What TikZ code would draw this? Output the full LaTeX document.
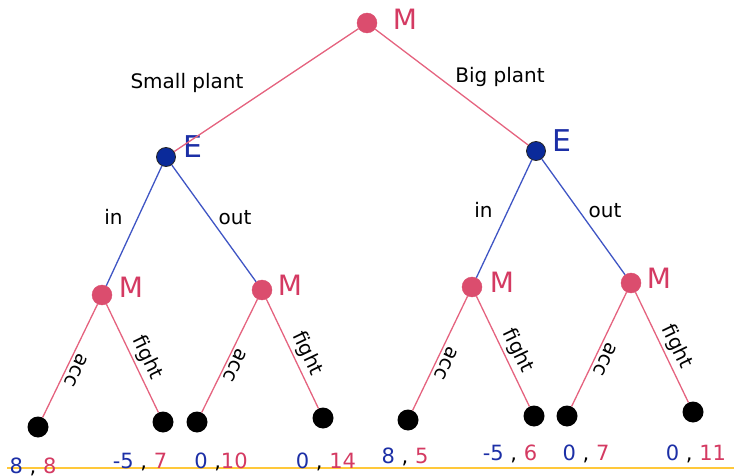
\documentclass[tikz,border=0pt]{standalone}
\usepackage{fontspec}
\setmainfont{DejaVu Sans}

\definecolor{mpink}{HTML}{DB4D6E}
\definecolor{epink}{HTML}{E5637F}
\definecolor{eblue}{HTML}{3F55C4}
\definecolor{nblue}{HTML}{0A2A9A}
\definecolor{tblue}{HTML}{1C2FA6}
\definecolor{tpink}{HTML}{D43A62}
\definecolor{gold}{HTML}{FFC83A}

\begin{document}
\begin{tikzpicture}[x=1pt,y=-1pt,
  mnode/.style={circle, fill=mpink, draw=mpink, minimum size=20pt, inner sep=0pt},
  enode/.style={circle, fill=nblue, draw=black!85, line width=0.8pt, minimum size=19pt, inner sep=0pt},
  leaf/.style={circle, fill=black, minimum size=21pt, inner sep=0pt},
  pedge/.style={draw=epink, line width=1.3pt},
  bedge/.style={draw=eblue, line width=1.3pt},
  lbl/.style={font=\fontsize{20}{24}\selectfont, text=black, inner sep=0pt, anchor=base},
  mlbl/.style={font=\fontsize{28}{32}\selectfont, text=tpink, inner sep=0pt, anchor=base},
  elbl/.style={font=\fontsize{30}{34}\selectfont, text=tblue, inner sep=0pt, anchor=base},
  pay/.style={font=\fontsize{21}{24}\selectfont, inner sep=0pt, anchor=base},
  act/.style={font=\fontsize{20}{24}\selectfont, text=black, sloped, above, pos=0.55, inner sep=3pt},
]
\useasboundingbox (0,0) rectangle (734,476);

% decision nodes
\node[mnode] (root) at (367,23) {};
\node[enode] (eL) at (166,157) {};
\node[enode] (eR) at (536,151) {};
\node[mnode] (m1) at (102,295) {};
\node[mnode] (m2) at (262,290) {};
\node[mnode] (m3) at (472,287) {};
\node[mnode] (m4) at (631,283) {};

% terminal nodes
\node[leaf] (t1) at (38,427) {};
\node[leaf] (t2) at (163,422) {};
\node[leaf] (t3) at (197,422) {};
\node[leaf] (t4) at (323,418) {};
\node[leaf] (t5) at (408,420) {};
\node[leaf] (t6) at (534,416) {};
\node[leaf] (t7) at (567,416) {};
\node[leaf] (t8) at (693,412) {};

% player labels
\node[mlbl] (lroot) at (405,30) {M};
\node[elbl] (leL) at (193,158) {E};
\node[elbl] (leR) at (562,152) {E};
\node[mlbl] (lm1) at (131,297) {M};
\node[mlbl] (lm2) at (290,295) {M};
\node[mlbl] (lm3) at (502,292) {M};
\node[mlbl] (lm4) at (659,288) {M};

% first move
\draw[pedge] (root) -- (eL);
\draw[pedge] (root) -- (eR);
\node[lbl] (small) at (187,89) {Small plant};
\node[lbl] (big) at (500,83) {Big plant};

% entrant's move
\draw[bedge] (eL) -- (m1);
\draw[bedge] (eL) -- (m2);
\draw[bedge] (eR) -- (m3);
\draw[bedge] (eR) -- (m4);
\node[lbl] (in1) at (113.5,225) {in};
\node[lbl] (out1) at (235,225) {out};
\node[lbl] (in2) at (483.5,218) {in};
\node[lbl] (out2) at (605,218) {out};

% incumbent's response
\draw[pedge] (m1) -- node[act, allow upside down] (a1) {acc} (t1);
\draw[pedge] (m1) -- node[act] (f1) {fight} (t2);
\draw[pedge] (m2) -- node[act, allow upside down] (a2) {acc} (t3);
\draw[pedge] (m2) -- node[act] (f2) {fight} (t4);
\draw[pedge] (m3) -- node[act, allow upside down] (a3) {acc} (t5);
\draw[pedge] (m3) -- node[act] (f3) {fight} (t6);
\draw[pedge] (m4) -- node[act, allow upside down] (a4) {acc} (t7);
\draw[pedge] (m4) -- node[act] (f4) {fight} (t8);

% base line under the payoffs
\coordinate (bl) at (7,468);
\coordinate (br) at (734,468);
\draw[gold, line width=1.4pt] (bl) -- (br);

% payoffs
\node[pay] (p1) at (33,473) {\textcolor{tblue}{8} , \textcolor{tpink}{8}};
\node[pay] (p2) at (140,468) {\textcolor{tblue}{-5} , \textcolor{tpink}{7}};
\node[pay] (p3) at (221,468) {\textcolor{tblue}{0} ,\textcolor{tpink}{10}};
\node[pay] (p4) at (326,468) {\textcolor{tblue}{0} , \textcolor{tpink}{14}};
\node[pay] (p5) at (405,463) {\textcolor{tblue}{8} , \textcolor{tpink}{5}};
\node[pay] (p6) at (510,460) {\textcolor{tblue}{-5} , \textcolor{tpink}{6}};
\node[pay] (p7) at (586,460) {\textcolor{tblue}{0} , \textcolor{tpink}{7}};
\node[pay] (p8) at (696,460) {\textcolor{tblue}{0} , \textcolor{tpink}{11}};
\end{tikzpicture}
\end{document}
